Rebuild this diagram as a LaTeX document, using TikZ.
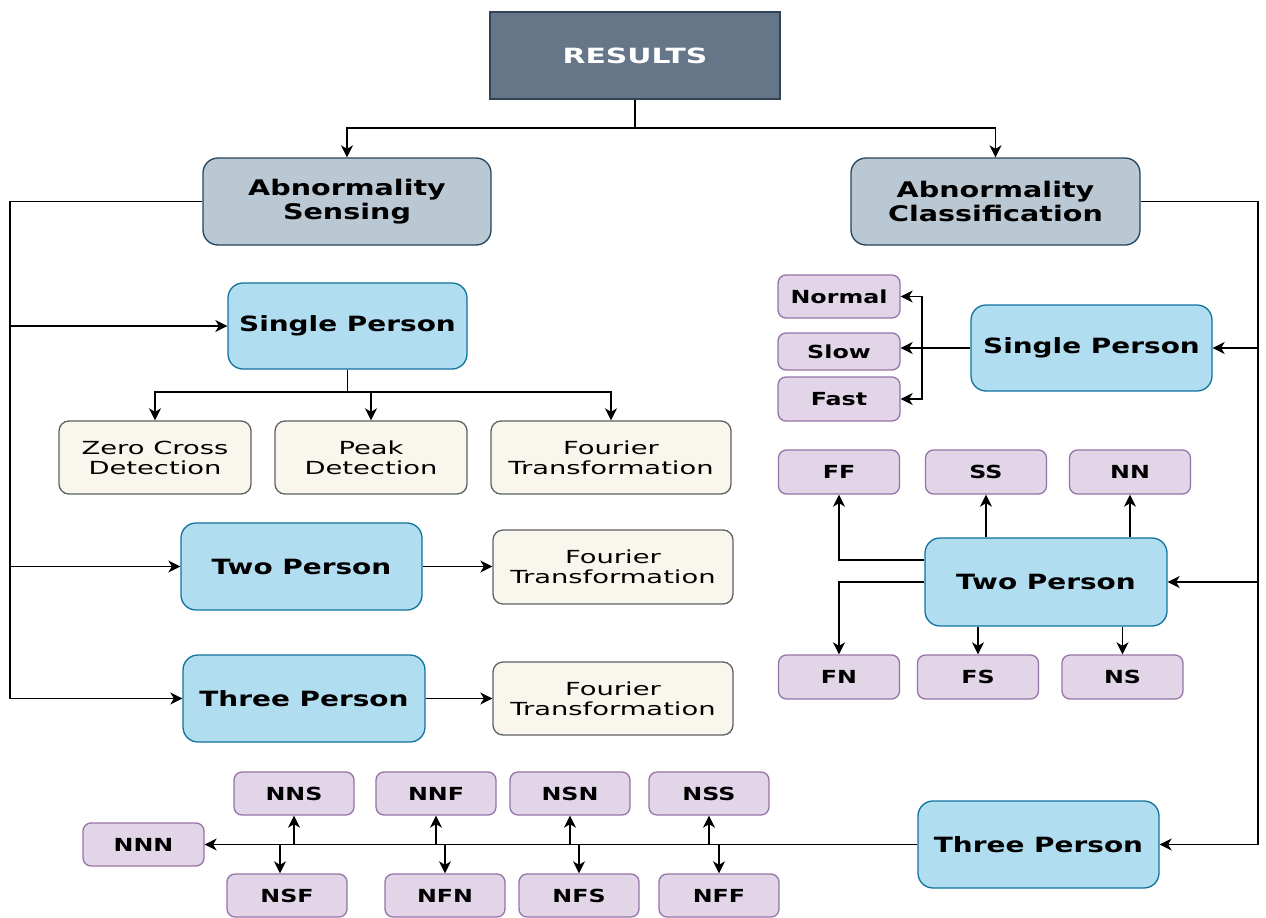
\documentclass[tikz,border=0pt]{standalone}
\usepackage{fontspec}
\setmainfont{DejaVu Sans}
\newfontfamily\fbig{DejaVu Sans}[FakeStretch=1.33]
\newfontfamily\fres{DejaVu Sans}[FakeStretch=1.42]
\newfontfamily\fcream{DejaVu Sans}[FakeStretch=1.52]
\newfontfamily\fpurp{DejaVu Sans}[FakeStretch=1.32]
\usetikzlibrary{arrows.meta}
\definecolor{resfill}{HTML}{647687}
\definecolor{resdraw}{HTML}{314354}
\definecolor{abfill}{HTML}{BAC8D3}
\definecolor{abdraw}{HTML}{23445D}
\definecolor{bluefill}{HTML}{B1DDF0}
\definecolor{bluedraw}{HTML}{10739E}
\definecolor{creamfill}{HTML}{F9F7ED}
\definecolor{creamdraw}{HTML}{36393D}
\definecolor{purpfill}{HTML}{E1D5E7}
\definecolor{purpdraw}{HTML}{9673A6}
\tikzset{
  box/.style={inner sep=0pt, align=center, line width=1.3pt},
  resbox/.style={box, fill=resfill, draw=resdraw, text=white, font=\fres\bfseries\fontsize{21}{24}\selectfont},
  abbox/.style={box, rounded corners=15pt, fill=abfill, draw=abdraw, font=\fbig\bfseries\fontsize{21.5}{23.5}\selectfont, minimum width=288pt, minimum height=87pt},
  bluebox/.style={box, rounded corners=15pt, fill=bluefill, draw=bluedraw, font=\fbig\bfseries\fontsize{21}{23}\selectfont, minimum height=87pt},
  creambox/.style={box, rounded corners=10pt, fill=creamfill, draw=creamdraw!80, font=\fcream\fontsize{18}{20}\selectfont, minimum height=73pt},
  purpbox/.style={box, rounded corners=8pt, fill=purpfill, draw=purpdraw, font=\fpurp\bfseries\fontsize{18}{20}\selectfont, minimum width=121pt, minimum height=43pt},
  line/.style={line width=1.5pt, draw=black},
  arr/.style={line, -{Stealth[length=12pt,width=12pt,inset=3.5pt]}},
}
\begin{document}
\begin{tikzpicture}[x=1pt,y=-1pt]
\useasboundingbox (0,0) rectangle (1266,918);
% top
\node[resbox, minimum width=290pt, minimum height=87pt] (res) at (635,55.5) {RESULTS};
\node[abbox] (abs) at (347,201.5) {Abnormality\\Sensing};
\node[abbox, minimum width=289pt] (abc) at (995.5,201.5) {Abnormality\\Classification};
% left side
\node[bluebox, minimum width=239pt, minimum height=86pt] (sp1) at (347.5,326) {Single Person};
\node[creambox, minimum width=192pt] (zc) at (155,457.5) {Zero Cross\\Detection};
\node[creambox, minimum width=192pt] (pk) at (371,457.5) {Peak\\Detection};
\node[creambox, minimum width=240pt] (ft1) at (611,457.5) {Fourier\\Transformation};
\node[bluebox, minimum width=241pt] (tp1) at (301.5,566.5) {Two Person};
\node[creambox, minimum width=240pt, minimum height=74pt] (ft2) at (613,567) {Fourier\\Transformation};
\node[bluebox, minimum width=242pt] (th1) at (304,698.5) {Three Person};
\node[creambox, minimum width=240pt] (ft3) at (613,698.5) {Fourier\\Transformation};
% right side
\node[bluebox, minimum width=241pt, minimum height=86pt] (sp2) at (1091.5,348) {Single Person};
\node[purpbox, minimum width=122pt] (nor) at (839,296.5) {Normal};
\node[purpbox, minimum width=122pt, minimum height=37pt] (slo) at (839,351.5) {Slow};
\node[purpbox, minimum width=122pt, minimum height=44pt] (fas) at (839,399) {Fast};
\node[purpbox, minimum height=44pt] (ff) at (839,472) {FF};
\node[purpbox, minimum height=44pt] (ss) at (986,472) {SS};
\node[purpbox, minimum height=44pt] (nn) at (1130,472) {NN};
\node[bluebox, minimum width=242pt, minimum height=88pt] (tp2) at (1046,582) {Two Person};
\node[purpbox, minimum height=44pt] (fn) at (839,677) {FN};
\node[purpbox, minimum height=44pt] (fs) at (978,677) {FS};
\node[purpbox, minimum height=44pt] (ns) at (1122.5,677) {NS};
\node[bluebox, minimum width=241pt] (th2) at (1038.5,844.5) {Three Person};
% bottom
\node[purpbox] (nnn) at (143.5,844.5) {NNN};
\node[purpbox, minimum width=120pt] (nns) at (294,793.5) {NNS};
\node[purpbox, minimum width=120pt] (nnf) at (436,793.5) {NNF};
\node[purpbox, minimum width=120pt] (nsn) at (570,793.5) {NSN};
\node[purpbox, minimum width=120pt] (nss) at (709,793.5) {NSS};
\node[purpbox, minimum width=120pt] (nsf) at (287,895.5) {NSF};
\node[purpbox, minimum width=120pt] (nfn) at (445,895.5) {NFN};
\node[purpbox, minimum width=120pt] (nfs) at (579,895.5) {NFS};
\node[purpbox, minimum width=120pt] (nff) at (719,895.5) {NFF};
% junction coordinates
\coordinate (tj) at (635,128);
\coordinate (lbus) at (10,0);
\coordinate (rbus) at (1258,0);
\coordinate (sj) at (347.5,392);
\coordinate (rj) at (922,348);
% connectors top
\draw[arr] (res.south) -- (tj) -| (abs.north);
\draw[arr] (tj) -| (abc.north);
% left bus
\draw[line] (abs.west) -| (lbus |- th1.west);
\draw[arr] (lbus |- sp1.west) -- (sp1.west);
\draw[arr] (lbus |- tp1.west) -- (tp1.west);
\draw[arr] (lbus |- th1.west) -- (th1.west);
\draw[line] (sp1.south) -- (sj);
\draw[arr] (sj) -| (zc.north);
\draw[arr] (sj) -| (pk.north);
\draw[arr] (sj) -| (ft1.north);
\draw[arr] (tp1.east) -- (tp1.east -| ft2.west);
\draw[arr] (th1.east) -- (ft3.west);
% right bus
\draw[line] (abc.east) -| (rbus |- th2.east);
\draw[arr] (rbus |- sp2.east) -- (sp2.east);
\draw[arr] (rbus |- tp2.east) -- (tp2.east);
\draw[arr] (rbus |- th2.east) -- (th2.east);
% single person right
\draw[arr] (sp2.west) -- (sp2.west -| slo.east);
\draw[arr] (rj) |- (nor.east);
\draw[arr] (rj) |- (fas.east);
% two person right
\draw[arr] ([yshift=22pt]tp2.west) -| (ff.south);
\draw[arr] (tp2.west) -| (fn.north);
\draw[arr] (ss.south |- tp2.north) -- (ss.south);
\draw[arr] (nn.south |- tp2.north) -- (nn.south);
\draw[arr] (fs.north |- tp2.south) -- (fs.north);
\draw[arr] (ns.north |- tp2.south) -- (ns.north);
% three person right
\draw[arr] (th2.west) -- (nnn.east);
\draw[arr] (nns.south |- nnn.east) -- (nns.south);
\draw[arr] (nnf.south |- nnn.east) -- (nnf.south);
\draw[arr] (nsn.south |- nnn.east) -- (nsn.south);
\draw[arr] (nss.south |- nnn.east) -- (nss.south);
\draw[arr] ([xshift=-7pt]nsf.north |- nnn.east) -- ([xshift=-7pt]nsf.north);
\draw[arr] (nfn.north |- nnn.east) -- (nfn.north);
\draw[arr] (nfs.north |- nnn.east) -- (nfs.north);
\draw[arr] (nff.north |- nnn.east) -- (nff.north);
\end{tikzpicture}
\end{document}
